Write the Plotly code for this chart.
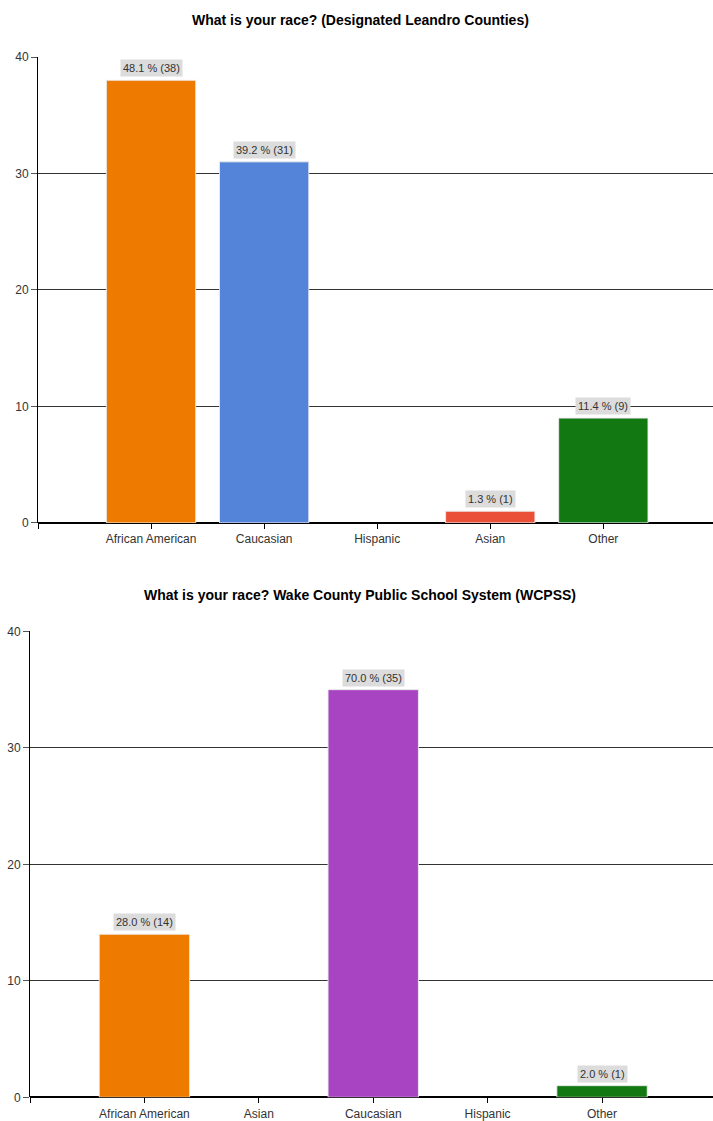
import plotly.graph_objects as go

# ---- data ----
top_title = "What is your race? (Designated Leandro Counties)"
top_categories = ["African American", "Caucasian", "Hispanic", "Asian", "Other"]
top_counts = [38, 31, 0, 1, 9]
top_pcts = [48.1, 39.2, 0.0, 1.3, 11.4]
top_colors = ["#EE7B00", "#5483DA", "#999999", "#EA5038", "#127812"]

bot_title = "What is your race? Wake County Public School System (WCPSS)"
bot_categories = ["African American", "Asian", "Caucasian", "Hispanic", "Other"]
bot_counts = [14, 0, 35, 0, 1]
bot_pcts = [28.0, 0.0, 70.0, 0.0, 2.0]
bot_colors = ["#EE7B00", "#999999", "#A844C1", "#999999", "#127812"]

y_ticks = [0, 10, 20, 30, 40]

FONT = "Liberation Sans, Arial, sans-serif"

fig = go.Figure()

def add_panel(cats, counts, pcts, colors, xa, ya):
    idx = [i for i, c in enumerate(counts) if c > 0]
    fig.add_trace(go.Bar(
        x=idx, y=[counts[i] for i in idx], width=0.79,
        marker=dict(color=[colors[i] for i in idx],
                    line=dict(color="rgba(235,235,235,0.9)", width=1)),
        xaxis=xa, yaxis=ya, showlegend=False,
        hovertemplate="%{y}<extra></extra>",
    ))
    for i in idx:
        fig.add_annotation(
            x=i, y=counts[i], xref=xa, yref=ya,
            text=f"{pcts[i]:.1f} % ({counts[i]})", showarrow=False,
            yshift=12, bgcolor="#DCDCDC",
            font=dict(family=FONT, size=11, color="#333333"),
            borderpad=2,
        )

add_panel(top_categories, top_counts, top_pcts, top_colors, "x", "y")
add_panel(bot_categories, bot_counts, bot_pcts, bot_colors, "x2", "y2")

def xaxis_cfg(cats, domain, anchor):
    return dict(
        domain=domain, anchor=anchor, range=[-1, 4.97],
        tickmode="array", tickvals=[-1] + list(range(len(cats))),
        ticktext=[""] + cats,
        ticks="outside", ticklen=5, tickcolor="#000", tickwidth=1,
        showline=False, showgrid=False, zeroline=False,
        tickfont=dict(family=FONT, size=12, color="#333333"),
        fixedrange=True,
    )

def yaxis_cfg(domain, anchor):
    return dict(
        domain=domain, anchor=anchor, range=[0, 40],
        tickmode="array", tickvals=y_ticks,
        ticks="outside", ticklen=6, tickcolor="#555", tickwidth=1,
        showline=True, linecolor="#000", linewidth=1,
        showgrid=True, gridcolor="#333333", gridwidth=1,
        zeroline=True, zerolinecolor="#000", zerolinewidth=1.5,
        tickfont=dict(family=FONT, size=12, color="#333333"),
        fixedrange=True,
    )

H = 1121.0
W = 713.0

def py(pix):
    # paper-y fraction for a target pixel row
    return 1 - (pix - 6.76) / 0.9866 / H

fig.update_layout(
    width=713, height=1121,
    margin=dict(l=0, r=0, t=0, b=0),
    paper_bgcolor="white", plot_bgcolor="white",
    xaxis=xaxis_cfg(top_categories, [38 / W, 1.0], "y"),
    yaxis=yaxis_cfg([py(525), py(57)], "x"),
    xaxis2=xaxis_cfg(bot_categories, [30 / W, 1.0], "y2"),
    yaxis2=yaxis_cfg([py(1102), py(634)], "x2"),
)

for title, ypix in [(top_title, 20), (bot_title, 597)]:
    fig.add_annotation(
        text=f"<b>{title}</b>", xref="paper", yref="paper",
        x=360 / W, y=py(ypix), showarrow=False,
        xanchor="center", yanchor="middle",
        font=dict(family=FONT, size=14, color="#000000"),
    )

fig.write_html("out.html")
